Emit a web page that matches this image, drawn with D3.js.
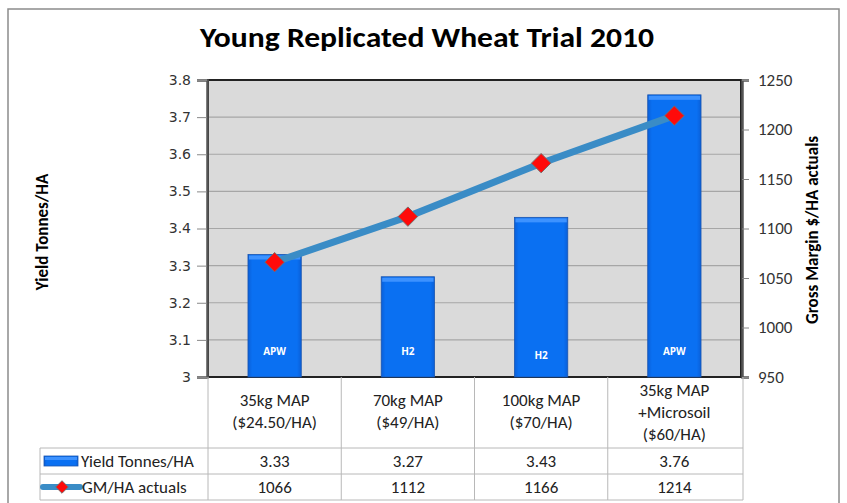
<!DOCTYPE html>
<html>
<head>
<meta charset="utf-8">
<script src="https://cdn.jsdelivr.net/npm/d3@7"></script>
<style>
  body { margin: 0; background: #fff; }
  svg { display: block; }
</style>
</head>
<body>
<div id="chart"></div>
<script>
// chart data
let categories = [["35kg MAP", "($24.50/HA)"], ["70kg MAP", "($49/HA)"], ["100kg MAP", "($70/HA)"], ["35kg MAP", "+Microsoil", "($60/HA)"]];
let yield_values = [3.33, 3.27, 3.43, 3.76];
let gm_values = [1066, 1112, 1166, 1214];
let grades = ["APW", "H2", "H2", "APW"];
let yield_ticks = [3, 3.1, 3.2, 3.3, 3.4, 3.5, 3.6, 3.7, 3.8];
let gm_ticks = [950, 1000, 1050, 1100, 1150, 1200, 1250];

let width = 847;
let height = 503;
let plot = {left: 208, right: 741, top: 80, bottom: 377};
let table_left = 40;
let row_y = [377, 448, 474, 500];

let font = "Carlito, Calibri, Lato, 'Open Sans', sans-serif";

let svg = d3.select("#chart")
            .append("svg")
            .attr("width", width)
            .attr("height", height);

let defs = svg.append("defs");
let grad = defs.append("linearGradient")
               .attr("id", "barGrad")
               .attr("x1", 0).attr("x2", 1).attr("y1", 0).attr("y2", 0);
grad.append("stop").attr("offset", "0%").attr("stop-color", "#0a5fd8");
grad.append("stop").attr("offset", "8%").attr("stop-color", "#0a70f2");
grad.append("stop").attr("offset", "92%").attr("stop-color", "#0a70f2");
grad.append("stop").attr("offset", "100%").attr("stop-color", "#0a5fd8");

// outer border
svg.append("rect")
   .attr("x", 8).attr("y", 9)
   .attr("width", 831).attr("height", 500)
   .style("fill", "#fff")
   .style("stroke", "#8c8c8c")
   .style("stroke-width", 1.5);

// title
svg.append("text")
   .attr("x", 427).attr("y", 47)
   .attr("text-anchor", "middle")
   .attr("textLength", 454)
   .attr("lengthAdjust", "spacingAndGlyphs")
   .style("font-family", font)
   .style("font-weight", "bold")
   .style("font-size", "29px")
   .text("Young Replicated Wheat Trial 2010");

let x = d3.scaleBand()
          .domain(d3.range(categories.length))
          .range([plot.left, plot.right])
          .paddingInner(0.6)
          .paddingOuter(0.3);

let y = d3.scaleLinear()
          .domain([3, 3.8])
          .range([plot.bottom, plot.top]);

let y2 = d3.scaleLinear()
           .domain([950, 1250])
           .range([plot.bottom, plot.top]);

// plot background
svg.append("rect")
   .attr("x", plot.left).attr("y", plot.top)
   .attr("width", plot.right - plot.left)
   .attr("height", plot.bottom - plot.top)
   .style("fill", "#dadada");

// grid lines
svg.append("g")
   .selectAll("line")
   .data(yield_ticks.slice(1, -1))
   .enter()
   .append("line")
   .attr("x1", plot.left).attr("x2", plot.right)
   .attr("y1", d => y(d)).attr("y2", d => y(d))
   .style("stroke", "#a6a6a6")
   .style("stroke-width", 1.2);

// plot border
svg.append("rect")
   .attr("x", plot.left).attr("y", plot.top)
   .attr("width", plot.right - plot.left)
   .attr("height", plot.bottom - plot.top)
   .style("fill", "none")
   .style("stroke", "#222")
   .style("stroke-width", 2);

// left axis
let left_axis = svg.append("g")
   .attr("transform", "translate(" + (plot.left - 1) + ",0)")
   .call(d3.axisLeft(y).tickValues(yield_ticks).tickSize(10).tickPadding(6)
          .tickFormat(d => String(d)));
left_axis.select(".domain").style("stroke", "#555").style("stroke-width", 2.5);
left_axis.selectAll(".tick line").style("stroke", "#888");
left_axis.selectAll("text")
   .style("font-family", "Tahoma, 'DejaVu Sans', sans-serif")
   .style("font-size", "14px")
   .style("fill", "#333");

// right axis
let right_axis = svg.append("g")
   .attr("transform", "translate(" + (plot.right + 1) + ",0)")
   .call(d3.axisRight(y2).tickValues(gm_ticks).tickSize(7).tickPadding(9)
          .tickFormat(d => String(d)));
right_axis.select(".domain").style("stroke", "#555").style("stroke-width", 2.5);
right_axis.selectAll(".tick line").style("stroke", "#888");
right_axis.selectAll("text")
   .style("font-family", font)
   .style("font-size", "17px")
   .style("fill", "#333");

// axis titles
svg.append("text")
   .attr("transform", "translate(48,232) rotate(-90)")
   .attr("text-anchor", "middle")
   .style("font-family", font)
   .style("font-weight", "bold")
   .style("font-size", "17px")
   .text("Yield Tonnes/HA");

svg.append("text")
   .attr("transform", "translate(818,230) rotate(-90)")
   .attr("text-anchor", "middle")
   .style("font-family", font)
   .style("font-weight", "bold")
   .style("font-size", "17px")
   .text("Gross Margin $/HA actuals");

// bars
let bars = svg.append("g")
   .selectAll("g")
   .data(yield_values)
   .enter()
   .append("g");

bars.append("rect")
   .attr("x", (d, i) => x(i))
   .attr("y", d => y(d))
   .attr("width", x.bandwidth())
   .attr("height", d => plot.bottom - y(d))
   .style("fill", "url(#barGrad)")
   .style("stroke", "#1a55b0")
   .style("stroke-width", 0.8);

bars.append("rect")
   .attr("x", (d, i) => x(i) + 1)
   .attr("y", d => y(d) + 1)
   .attr("width", x.bandwidth() - 2)
   .attr("height", 4)
   .style("fill", "#3d92ff");

bars.append("text")
   .attr("x", (d, i) => x(i) + x.bandwidth() / 2)
   .attr("y", (d, i) => i === 2 ? 359 : 355)
   .attr("text-anchor", "middle")
   .style("font-family", "'Open Sans', sans-serif")
   .style("font-weight", "bold")
   .style("font-size", "10px")
   .style("fill", "#fff")
   .text((d, i) => grades[i]);

// GM line
let line = d3.line()
   .x((d, i) => x(i) + x.bandwidth() / 2)
   .y(d => y2(d));

svg.append("path")
   .attr("d", line(gm_values))
   .style("fill", "none")
   .style("stroke", "#3a8cc6")
   .style("stroke-width", 7);

let diamond = d3.symbol().type(d3.symbolDiamond2).size(240);
svg.append("g")
   .selectAll("path")
   .data(gm_values)
   .enter()
   .append("path")
   .attr("d", diamond)
   .attr("transform", (d, i) => "translate(" + (x(i) + x.bandwidth() / 2) + "," + y2(d) + ")")
   .style("fill", "#ff0a0a")
   .style("stroke", "#7a6a6a")
   .style("stroke-width", 1);

// data table
let table = svg.append("g");
let col_edges = [plot.left].concat(d3.range(categories.length).map(i => x(i) + x.bandwidth() / 2 + x.step() / 2));
col_edges[col_edges.length - 1] = plot.right + 2;

table.selectAll("line.v")
   .data(col_edges)
   .enter()
   .append("line")
   .attr("x1", d => d).attr("x2", d => d)
   .attr("y1", row_y[0]).attr("y2", row_y[3])
   .style("stroke", "#b8b8b8");

table.append("line")
   .attr("x1", table_left).attr("x2", table_left)
   .attr("y1", row_y[1]).attr("y2", row_y[3])
   .style("stroke", "#b8b8b8");

table.selectAll("line.h")
   .data(row_y.slice(1))
   .enter()
   .append("line")
   .attr("x1", table_left).attr("x2", col_edges[col_edges.length - 1])
   .attr("y1", d => d).attr("y2", d => d)
   .style("stroke", "#b8b8b8");

// category labels
categories.forEach(function(c, i) {
  let cx = x(i) + x.bandwidth() / 2;
  let start = c.length === 3 ? 396 : 406;
  let t = table.append("text")
     .attr("x", cx)
     .attr("text-anchor", "middle")
     .style("font-family", font)
     .style("font-size", "17px")
     .style("fill", "#222");
  c.forEach(function(s, j) {
    t.append("tspan").attr("x", cx).attr("y", start + j * 22).text(s);
  });
});

// value rows
let rows = [yield_values.map(d => d3.format(".2f")(d)), gm_values.map(String)];
rows.forEach(function(r, k) {
  table.selectAll("text.r" + k)
     .data(r)
     .enter()
     .append("text")
     .attr("x", (d, i) => x(i) + x.bandwidth() / 2)
     .attr("y", row_y[k + 1] + 19)
     .attr("text-anchor", "middle")
     .style("font-family", font)
     .style("font-size", "17px")
     .style("fill", "#222")
     .text(d => d);
});

// legend keys
table.append("rect")
   .attr("x", 44).attr("y", 456)
   .attr("width", 34).attr("height", 10)
   .style("fill", "url(#barGrad)")
   .style("stroke", "#1a55b0")
   .style("stroke-width", 0.8);
table.append("rect")
   .attr("x", 45).attr("y", 457)
   .attr("width", 32).attr("height", 3)
   .style("fill", "#3d92ff");
table.append("text")
   .attr("x", 81).attr("y", 467)
   .style("font-family", font)
   .style("font-size", "17px")
   .style("fill", "#222")
   .text("Yield Tonnes/HA");

table.append("line")
   .attr("x1", 43).attr("x2", 80)
   .attr("y1", 487).attr("y2", 487)
   .style("stroke", "#3a8cc6")
   .style("stroke-width", 6)
   .style("stroke-linecap", "round");
table.append("path")
   .attr("d", d3.symbol().type(d3.symbolDiamond2).size(100))
   .attr("transform", "translate(62,487)")
   .style("fill", "#ff0a0a")
   .style("stroke", "#7a6a6a")
   .style("stroke-width", 1);
table.append("text")
   .attr("x", 82).attr("y", 493)
   .style("font-family", font)
   .style("font-size", "17px")
   .style("fill", "#222")
   .text("GM/HA actuals");
</script>
</body>
</html>
